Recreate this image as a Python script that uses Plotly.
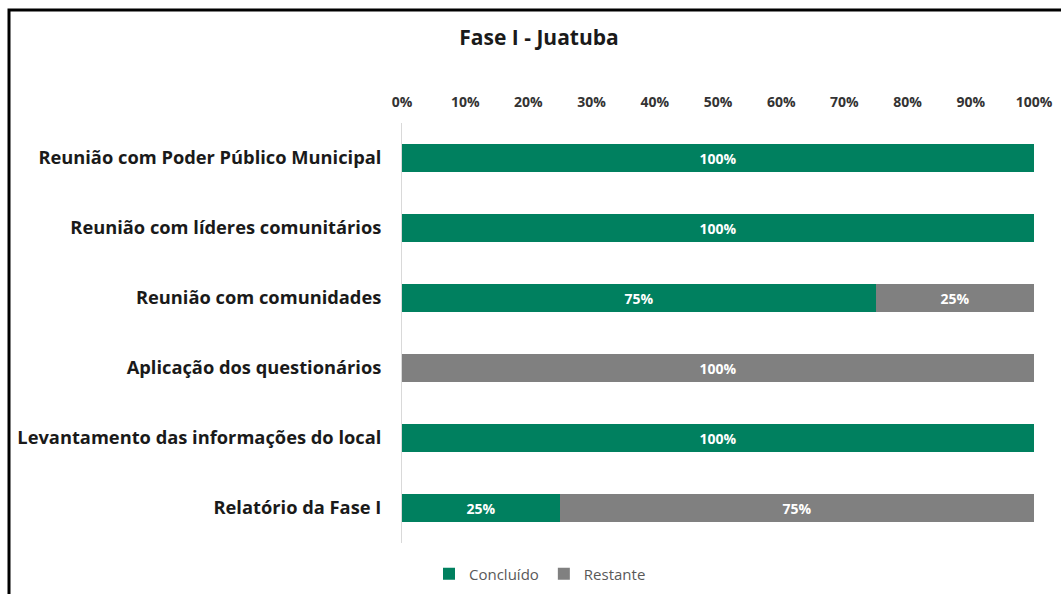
import plotly.graph_objects as go

categories = [
    "Reunião com Poder Público Municipal",
    "Reunião com líderes comunitários",
    "Reunião com comunidades",
    "Aplicação dos questionários",
    "Levantamento das informações do local",
    "Relatório da Fase I",
]
concluido = [100, 100, 75, 0, 100, 25]
restante = [0, 0, 25, 100, 0, 75]
tick_vals = [0, 10, 20, 30, 40, 50, 60, 70, 80, 90, 100]
tick_text = [f"{v}%" for v in tick_vals]

GREEN = "#00805f"
GRAY = "#808080"
FONT = "Open Sans"

def labels(vals):
    return [f"{v}%" if v > 0 else "" for v in vals]

fig = go.Figure()
fig.add_trace(go.Bar(
    y=categories, x=concluido, orientation="h", name="Concluído",
    marker=dict(color=GREEN, line=dict(width=0)),
    text=labels(concluido), textposition="inside", insidetextanchor="middle",
    textfont=dict(color="white", size=14, family=FONT, weight="bold"),
    width=0.4,
))
fig.add_trace(go.Bar(
    y=categories, x=restante, orientation="h", name="Restante",
    marker=dict(color=GRAY, line=dict(width=0)),
    text=labels(restante), textposition="inside", insidetextanchor="middle",
    textfont=dict(color="white", size=14, family=FONT, weight="bold"),
    width=0.4,
))

L, R, T, B = 402, 27, 123, 51
W, H = 1061, 594
pw, ph = W - L - R, H - T - B

fig.update_layout(
    barmode="stack",
    width=W, height=H,
    margin=dict(l=L, r=R, t=T, b=B, autoexpand=False),
    paper_bgcolor="white", plot_bgcolor="white",
    font=dict(family=FONT),
    title=dict(text="<b>Fase I - Juatuba</b>", x=539 / W, y=1 - 38 / H,
               xref="container", yref="container", xanchor="center", yanchor="middle",
               font=dict(size=21, color="#1a1a1a", family=FONT)),
    xaxis=dict(side="top", range=[0, 100], tickvals=tick_vals, ticktext=tick_text,
               showgrid=False, zeroline=False, showline=False, fixedrange=True,
               tickfont=dict(size=14, color="#333333", family=FONT, weight="bold"),
               ticklabelstandoff=12),
    yaxis=dict(autorange="reversed", showgrid=False, showline=True, linecolor="#d9d9d9",
               linewidth=1, ticks="", ticklabelstandoff=16,
               tickfont=dict(size=18.3, color="#1a1a1a", family=FONT, weight="bold")),
    legend=dict(orientation="h", xref="container", yref="container",
                x=540 / W, y=1 - 574 / H, xanchor="center", yanchor="middle",
                font=dict(size=15, color="#595959", family=FONT), traceorder="normal"),
    bargap=0.6,
)

# outer frame
fig.add_shape(type="rect", xref="paper", yref="paper",
              x0=(9 - L) / pw, x1=(1070 - L) / pw,
              y0=-(700 - (H - B)) / ph, y1=1 + (T - 10) / ph,
              line=dict(color="black", width=3), layer="above")

fig.write_html("out.html", config={"displayModeBar": False},
               post_script="document.body.style.margin='0';document.body.style.overflow='hidden';")
